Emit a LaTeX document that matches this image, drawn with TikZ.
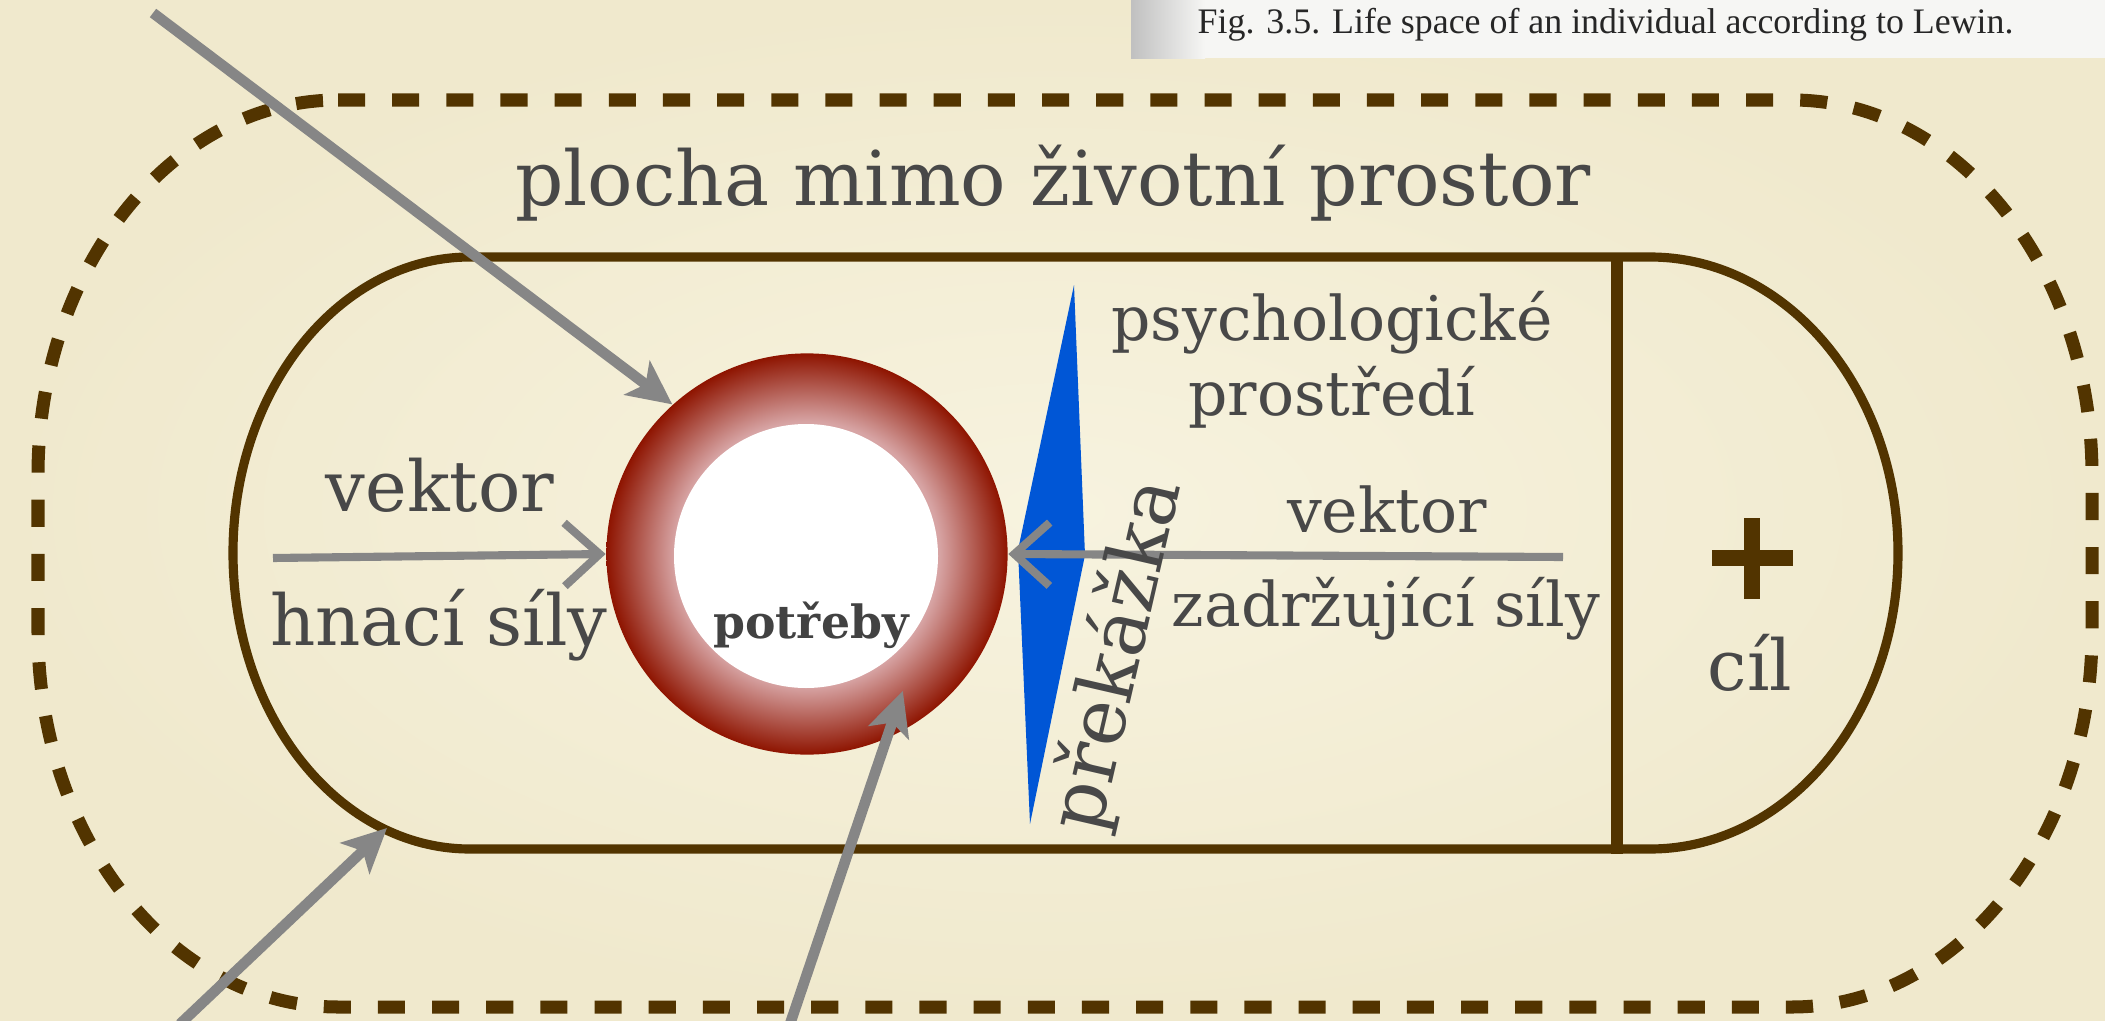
\documentclass[tikz,border=0pt]{standalone}
\usepackage{fontspec}
\setmainfont{DejaVu Serif}
\newfontfamily\ScanFont{Liberation Serif}
\usetikzlibrary{arrows.meta, calc, positioning}
\definecolor{PaperCream}{HTML}{F7F3DF}
\definecolor{PaperEdge}{HTML}{F0E9CD}
\definecolor{BarkBrown}{HTML}{523400}
\definecolor{InkGrey}{HTML}{484848}
\definecolor{NeedsInk}{HTML}{424242}
\definecolor{PointerGrey}{HTML}{868686}
\definecolor{RingRed}{HTML}{8E1400}
\definecolor{RingPink}{HTML}{D7A4A4}
\definecolor{ObstacleBlue}{HTML}{0056D6}
\definecolor{ScanWhite}{HTML}{F6F6F4}
\definecolor{ScanShadow}{HTML}{C0C0C0}
\pgfdeclareradialshading{ringshade}{\pgfpoint{0bp}{0bp}}{%
  color(0bp)=(RingPink); color(16.5bp)=(RingPink);
  color(25bp)=(RingRed); color(50bp)=(RingRed)}
\newcommand{\LabelSize}[1]{\fontsize{#1}{#1}\selectfont}
\tikzset{
  lifelabel/.style={text=InkGrey, inner sep=0pt, anchor=base},
  pointer/.style={draw=PointerGrey, line width=3pt,
    -{Stealth[length=12.5pt, width=12pt, inset=3pt]}},
  sketchvec/.style={draw=PointerGrey, line width=2.3pt,
    -{Straight Barb[length=10pt, width=18pt]}}
}

\begin{document}
\begin{tikzpicture}[x=0.01cm, y=-0.01cm]
  % paper and the scanned caption strip
  \useasboundingbox (0,0) rectangle (2105,1021);
  \shade[inner color=PaperCream, outer color=PaperEdge] (0,0) rectangle (2105,1021);
  \fill[ScanWhite] (1131,0) rectangle (2105,58);
  \shade[left color=ScanShadow, right color=ScanWhite] (1131,0) rectangle (1205,58);
  \node[text=black!85, font=\ScanFont\LabelSize{10.2pt}, anchor=base west, inner sep=0pt]
    (figcap) at (1197,34) {Fig. 3.5. Life space of an individual according to Lewin.};

  % outer dashed boundary (area outside the life space)
  \draw[BarkBrown, line width=3.7pt, dash pattern=on 7.7pt off 7.7pt]
    (338,100) -- (1792,100) arc[start angle=-90, end angle=0, x radius=300, y radius=375]
    -- (2092,632) arc[start angle=0, end angle=90, x radius=300, y radius=375]
    -- (338,1007) arc[start angle=90, end angle=180, x radius=300, y radius=375]
    -- (38,475) arc[start angle=180, end angle=270, x radius=300, y radius=375] -- cycle;

  % life space with the goal region on the right
  \draw[BarkBrown, line width=2.6pt]
    (470,257) -- (1650,257) arc[start angle=-90, end angle=90, x radius=248, y radius=296]
    -- (470,849) arc[start angle=90, end angle=270, x radius=237, y radius=296] -- cycle;
  \draw[BarkBrown, line width=3.4pt] (1617,257) -- (1617,854);
  \coordinate (lsedge) at (387,828);
  \draw[BarkBrown, line width=4.3pt] (1712,558) -- (1793,558) (1752,518) -- (1752,599);

  % the person: ring of needs
  \node[circle, minimum size=4.01cm, inner sep=0pt, shade, shading=ringshade] (ring) at (807,554) {};
  \fill[white] (806,556) circle[radius=132];
  \node[lifelabel, text=NeedsInk, font=\bfseries\LabelSize{13pt}] (needs) at (811,638) {potřeby};

  % obstacle
  \coordinate (obsT) at (1074,285);
  \coordinate (obsR) at (1085,555);
  \coordinate (obsB) at (1030,824);
  \coordinate (obsL) at (1018,550);
  \fill[ObstacleBlue] (obsT) -- (obsR) -- (obsB) -- (obsL) -- cycle;

  % force vectors
  \coordinate (driveStart) at (273,558);
  \coordinate (holdStart) at (1563,557);
  \draw[sketchvec] (driveStart) -- (ring.west);
  \draw[sketchvec] (holdStart) -- (ring.east);

  % labels
  \node[lifelabel, font=\LabelSize{21.5pt}] (outside) at (1053,205) {plocha mimo životní prostor};
  \node[lifelabel, font=\LabelSize{17.5pt}] (envtop) at (1332,340) {psychologické};
  \node[lifelabel, font=\LabelSize{17.5pt}] (envbot) at (1332,415) {prostředí};
  \node[lifelabel, font=\LabelSize{17.5pt}] (holdtop) at (1387,532) {vektor};
  \node[lifelabel, font=\LabelSize{17.5pt}] (holdbot) at (1386,626) {zadržující síly};
  \node[lifelabel, font=\LabelSize{20pt}] (drivetop) at (440,511) {vektor};
  \node[lifelabel, font=\LabelSize{20pt}] (drivebot) at (439,645) {hnací síly};
  \node[lifelabel, font=\LabelSize{20pt}] (goal) at (1750,690) {cíl};
  \node[text=InkGrey, font=\LabelSize{22pt}, rotate=77, inner sep=0pt] (barrier) at (1118,655) {překážka};

  % pointers from outside
  \coordinate (ptrA) at (153,13);
  \coordinate (ptrB) at (180,1024);
  \coordinate (ptrC) at (790,1024);
  \draw[pointer] (ptrA) -- (ring.132);
  \draw[pointer] (ptrB) -- (lsedge);
  \draw[pointer] (ptrC) -- ($(ring.center)!0.83!(ring.-55)$);
\end{tikzpicture}
\end{document}
